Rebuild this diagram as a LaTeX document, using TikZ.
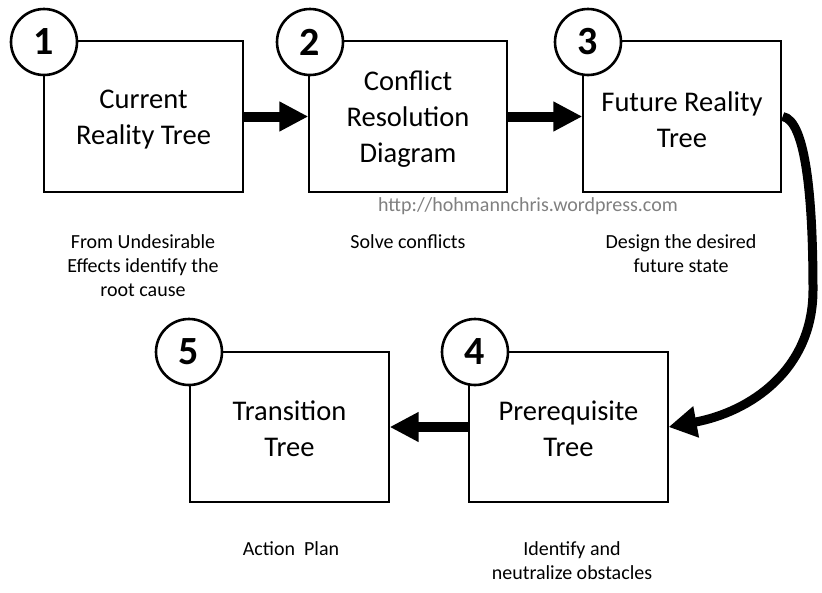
\documentclass[tikz,border=0pt]{standalone}
\usepackage{fontspec}
\setmainfont{Carlito}
\usetikzlibrary{arrows.meta}
\begin{document}
\begin{tikzpicture}[x=1pt,y=-1pt,
  stepbox/.style={draw=black,line width=1.3pt,fill=white,inner sep=0pt,
    minimum width=199pt,minimum height=151pt},
  boxtext/.style={align=center,inner sep=0pt,font=\fontsize{28.5}{36}\selectfont},
  numcirc/.style={draw=black,line width=2.6pt,fill=white,circle,inner sep=0pt,
    minimum size=66pt,font=\fontsize{40}{40}\selectfont\bfseries},
  desc/.style={align=center,inner sep=0pt,font=\fontsize{20}{24}\selectfont},
  bigarrow/.style={line width=10pt,-{Triangle[length=29pt,width=28pt]}},
]
\fill[white] (0,0) rectangle (822,592);
\useasboundingbox (0,0) rectangle (822,592);

\node[stepbox] (b1) at (143.5,116.5) {};
\node[stepbox,minimum width=198pt] (b2) at (408,116.5) {};
\node[stepbox,minimum width=198pt] (b3) at (682,116.5) {};
\node[stepbox,minimum height=150pt] (b4) at (568.5,427) {};
\node[stepbox,minimum height=150pt] (b5) at (289.5,427) {};

\node[boxtext] (t1) at ([yshift=-3pt]b1.center) {Current\\Reality Tree};
\node[boxtext] (t2) at ([yshift=-3pt]b2.center) {Conflict\\Resolution\\Diagram};
\node[boxtext] (t3) at ([yshift=-3pt]b3.center) {Future Reality\\Tree};
\node[boxtext] (t4) at ([yshift=-2pt]b4.center) {Prerequisite\\Tree};
\node[boxtext] (t5) at ([yshift=-2pt]b5.center) {Transition\\Tree};

\draw[bigarrow] (b1.east) -- (b2.west);
\draw[bigarrow] (b2.east) -- (b3.west);
\draw[bigarrow] (b4.west) -- (b5.east);
\draw[line width=9pt,-{Triangle[length=28pt,width=30pt]}]
  ([xshift=1pt]b3.east) .. controls (806,120) and (813,200) .. (813,290)
  .. controls (813,370) and (750,412) .. (b4.east);

\node[numcirc] (c1) at (44,42) {1};
\node[numcirc] (c2) at (310,42) {2};
\node[numcirc] (c3) at (588,42) {3};
\node[numcirc] (c4) at (475,352) {4};
\node[numcirc] (c5) at (189,352) {5};

\node[text=black!50,inner sep=0pt,font=\fontsize{20}{24}\selectfont] (url) at (528,206) {http://hohmannchris.wordpress.com};

\node[desc,anchor=north] (d1) at (143,234) {From Undesirable\\Effects identify the\\root cause};
\node[desc,anchor=north] (d2) at (408,234) {Solve conflicts};
\node[desc,anchor=north] (d3) at (681,234) {Design the desired\\future state};
\node[desc,anchor=north] (d5) at (291,541) {Action~~Plan};
\node[desc,anchor=north] (d4) at (572,541) {Identify and\\neutralize obstacles};
\end{tikzpicture}
\end{document}
